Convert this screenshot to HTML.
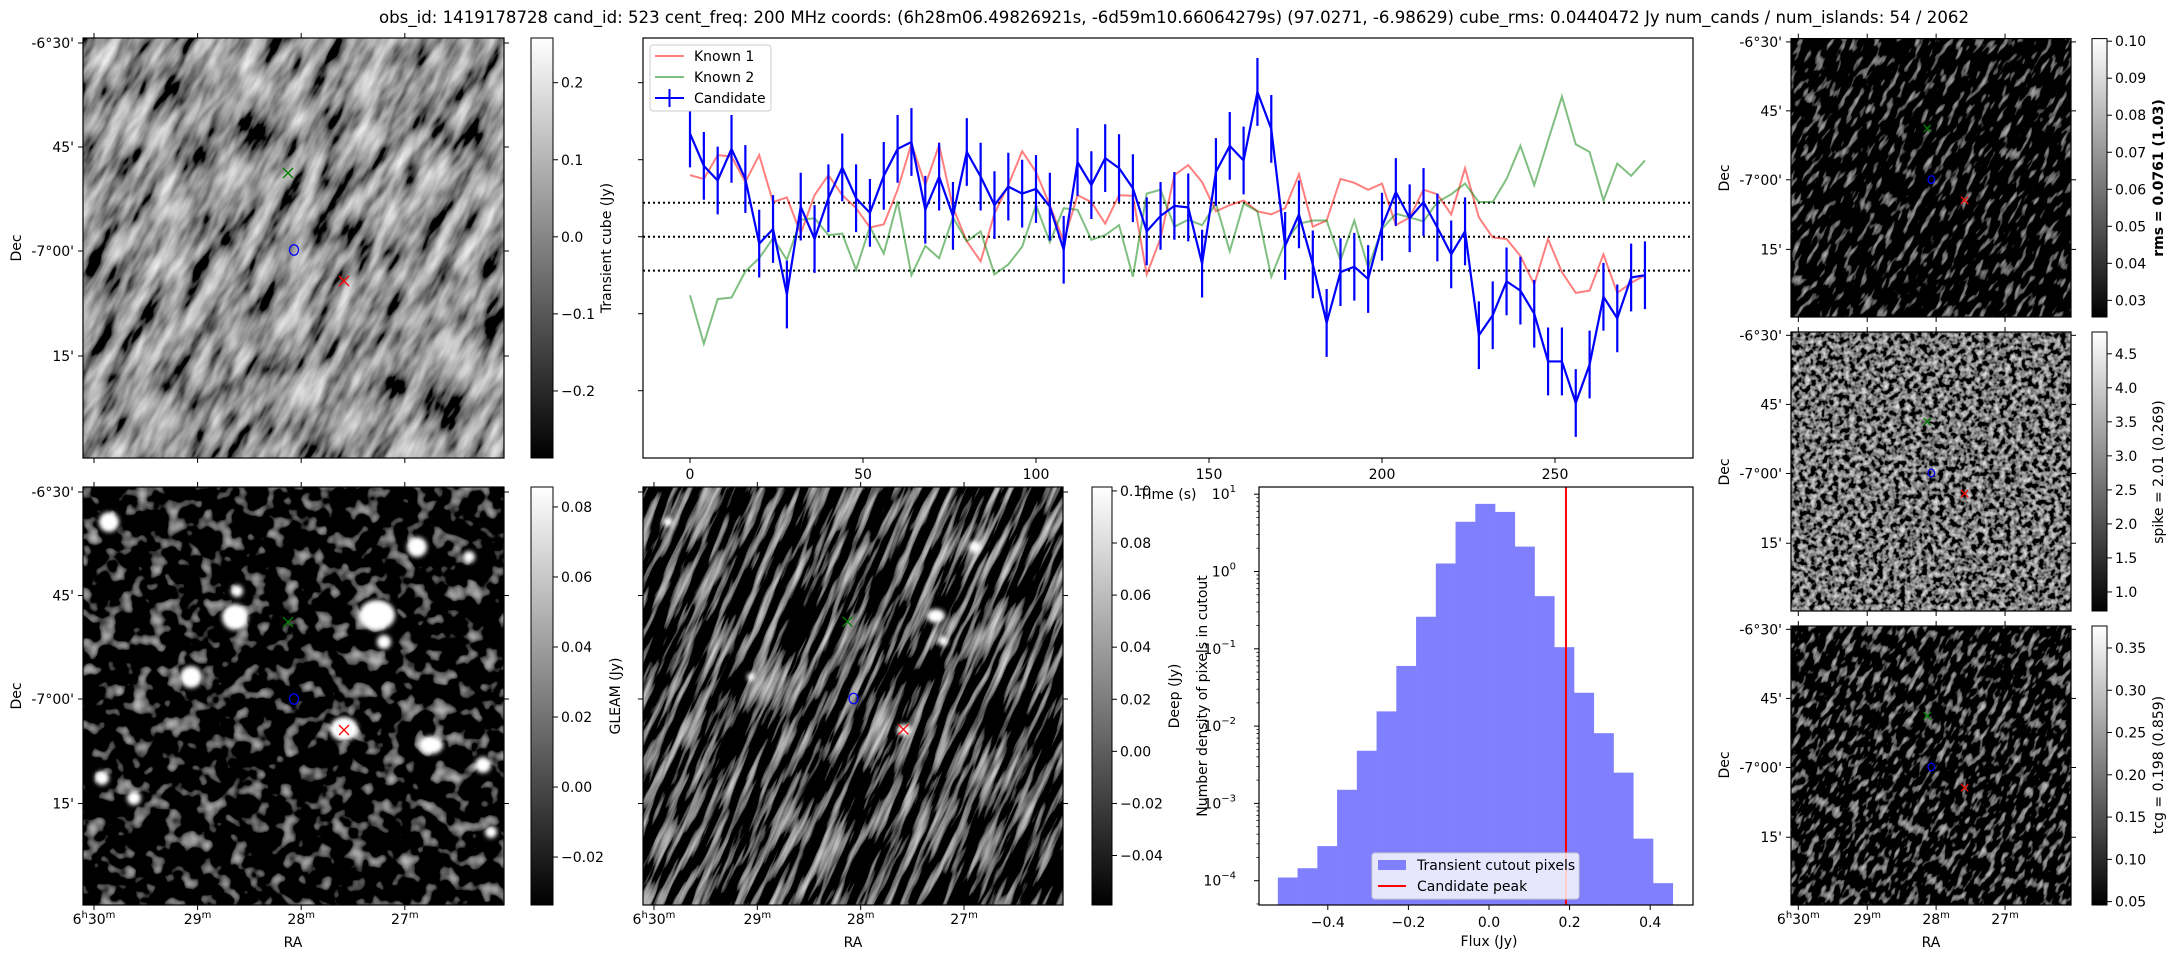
<!DOCTYPE html>
<html><head><meta charset="utf-8">
<style>
html,body{margin:0;padding:0;background:#fff;overflow:hidden;width:2175px;height:960px;}
svg{display:block;font-family:"DejaVu Sans","Liberation Sans",sans-serif;}
.t{font-size:14px;fill:#000;}
</style></head>
<body>
<svg id="fig" width="2175" height="960" viewBox="0 0 2175 960" xmlns="http://www.w3.org/2000/svg">
<defs>
<linearGradient id="cbg" x1="0" y1="1" x2="0" y2="0"><stop offset="0" stop-color="#000"/><stop offset="1" stop-color="#fff"/></linearGradient>
<filter id="fTL" x="0" y="0" width="100%" height="100%"><feTurbulence type="fractalNoise" baseFrequency="0.02 0.07" numOctaves="3" seed="3"/><feColorMatrix type="matrix" values="1.4 0 0 0 -0.4 1.4 0 0 0 -0.4 1.4 0 0 0 -0.4 0 0 0 0 1"/></filter>
<filter id="fBL" x="0" y="0" width="100%" height="100%"><feTurbulence type="fractalNoise" baseFrequency="0.06" numOctaves="2" seed="7"/><feColorMatrix type="matrix" values="1.4 0 0 0 -0.76 1.4 0 0 0 -0.76 1.4 0 0 0 -0.76 0 0 0 0 1"/></filter>
<filter id="fBM" x="0" y="0" width="100%" height="100%"><feTurbulence type="fractalNoise" baseFrequency="0.015 0.12" numOctaves="3" seed="11"/><feColorMatrix type="matrix" values="1.6 0 0 0 -0.76 1.6 0 0 0 -0.76 1.6 0 0 0 -0.76 0 0 0 0 1"/></filter>
<filter id="fR1" x="0" y="0" width="100%" height="100%"><feTurbulence type="fractalNoise" baseFrequency="0.06 0.18" numOctaves="2" seed="5"/><feColorMatrix type="matrix" values="1.3 0 0 0 -0.74 1.3 0 0 0 -0.74 1.3 0 0 0 -0.74 0 0 0 0 1"/></filter>
<filter id="fR2" x="0" y="0" width="100%" height="100%"><feTurbulence type="fractalNoise" baseFrequency="0.18" numOctaves="2" seed="9"/><feColorMatrix type="matrix" values="1.6 0 0 0 -0.62 1.6 0 0 0 -0.62 1.6 0 0 0 -0.62 0 0 0 0 1"/></filter>
<filter id="fR3" x="0" y="0" width="100%" height="100%"><feTurbulence type="fractalNoise" baseFrequency="0.08 0.18" numOctaves="2" seed="13"/><feColorMatrix type="matrix" values="1.4 0 0 0 -0.74 1.4 0 0 0 -0.74 1.4 0 0 0 -0.74 0 0 0 0 1"/></filter>
<filter id="blur2"><feGaussianBlur stdDeviation="2"/></filter>
<clipPath id="cTL"><rect x="83" y="38" width="421" height="420"/></clipPath>
<clipPath id="cBL"><rect x="83" y="487" width="421" height="418"/></clipPath>
<clipPath id="cBM"><rect x="643" y="487" width="420" height="418"/></clipPath>
<clipPath id="cR1"><rect x="1791" y="38.6" width="280" height="278.4"/></clipPath>
<clipPath id="cR2"><rect x="1791" y="332" width="280" height="279"/></clipPath>
<clipPath id="cR3"><rect x="1791" y="626" width="280" height="279"/></clipPath>
</defs>

<text x="379" y="23" font-size="17" textLength="1590" lengthAdjust="spacingAndGlyphs">obs_id: 1419178728 cand_id: 523 cent_freq: 200 MHz coords: (6h28m06.49826921s, -6d59m10.66064279s) (97.0271, -6.98629) cube_rms: 0.0440472 Jy num_cands / num_islands: 54 / 2062</text>

<!-- IMAGES -->
<g clip-path="url(#cTL)">
 <rect x="-200" y="-250" width="1000" height="1000" filter="url(#fTL)" transform="rotate(-62 293 248)"/>
</g>
<g clip-path="url(#cBL)">
 <rect x="83" y="487" width="421" height="418" filter="url(#fBL)"/>
 <g fill="#fff" filter="url(#blur2)">
  <circle cx="109" cy="522" r="10"/><circle cx="235" cy="617" r="13"/><ellipse cx="377" cy="615" rx="18" ry="15"/>
  <circle cx="417" cy="547" r="10"/><circle cx="191" cy="677" r="11"/><ellipse cx="344" cy="729" rx="14" ry="12"/>
  <ellipse cx="431" cy="745" rx="12" ry="9"/><circle cx="483" cy="765" r="8"/><circle cx="384" cy="642" r="7"/>
  <circle cx="102" cy="778" r="7"/><circle cx="134" cy="798" r="7"/><circle cx="491" cy="832" r="6"/>
  <circle cx="469" cy="557" r="6"/><circle cx="237" cy="591" r="6"/>
 </g>
</g>
<g clip-path="url(#cBM)">
 <rect x="350" y="200" width="1000" height="1000" filter="url(#fBM)" transform="rotate(-66 853 696)"/>
 <g fill="#fff" filter="url(#blur2)">
  <circle cx="668" cy="522" r="5"/><ellipse cx="936" cy="616" rx="9" ry="7"/><circle cx="975" cy="547" r="6"/>
  <circle cx="943" cy="641" r="5"/><circle cx="751" cy="677" r="4"/><ellipse cx="904" cy="730" rx="7" ry="6"/>
 </g>
</g>
<g clip-path="url(#cR1)">
 <rect x="1600" y="-150" width="660" height="660" filter="url(#fR1)" transform="rotate(-60 1931 178)"/>
</g>
<g clip-path="url(#cR2)">
 <rect x="1791" y="332" width="280" height="279" filter="url(#fR2)"/>
</g>
<g clip-path="url(#cR3)">
 <rect x="1600" y="440" width="660" height="660" filter="url(#fR3)" transform="rotate(-60 1931 765)"/>
</g>
<g fill="none" stroke="#000" stroke-width="1.2">
 <rect x="83" y="38" width="421" height="420"/>
 <rect x="83" y="487" width="421" height="418"/>
 <rect x="643" y="487" width="420" height="418"/>
 <rect x="1791" y="38.6" width="280" height="278.4"/>
 <rect x="1791" y="332" width="280" height="279"/>
 <rect x="1791" y="626" width="280" height="279"/>
</g>

<!-- colorbars -->
<g stroke="#000" stroke-width="1">
 <rect x="531" y="38" width="22" height="420" fill="url(#cbg)"/>
 <rect x="531" y="487" width="22" height="418" fill="url(#cbg)"/>
 <rect x="1092" y="487" width="20" height="418" fill="url(#cbg)"/>
 <rect x="2092" y="38.6" width="15" height="278.4" fill="url(#cbg)"/>
 <rect x="2092" y="332" width="15" height="279" fill="url(#cbg)"/>
 <rect x="2092" y="626" width="15" height="279" fill="url(#cbg)"/>
</g>
<g id="static" class="t"></g>

<!-- colorbar titles -->
<text class="t" transform="translate(611 248) rotate(-90)" text-anchor="middle">Transient cube (Jy)</text>
<text class="t" transform="translate(620 696) rotate(-90)" text-anchor="middle">GLEAM (Jy)</text>
<text class="t" transform="translate(1179 696) rotate(-90)" text-anchor="middle">Deep (Jy)</text>
<text class="t" transform="translate(2163 178) rotate(-90)" text-anchor="middle" font-weight="bold">rms = 0.0761 (1.03)</text>
<text class="t" transform="translate(2163 472) rotate(-90)" text-anchor="middle">spike = 2.01 (0.269)</text>
<text class="t" transform="translate(2163 765) rotate(-90)" text-anchor="middle">tcg = 0.198 (0.859)</text>

<!-- light curve -->
<g id="lc">
 <rect x="643" y="38" width="1050" height="420" fill="#fff" stroke="#000" stroke-width="1.2"/>
</g>
<text class="t" x="1168" y="499" text-anchor="middle">Time (s)</text>

<!-- histogram -->
<g id="hist"></g>
<text class="t" x="1489" y="946" text-anchor="middle">Flux (Jy)</text>
<text class="t" transform="translate(1207 696) rotate(-90)" text-anchor="middle">Number density of pixels in cutout</text>

<!-- image axis labels -->
<text class="t" transform="translate(21 248) rotate(-90)" text-anchor="middle">Dec</text>
<text class="t" transform="translate(21 696) rotate(-90)" text-anchor="middle">Dec</text>
<text class="t" transform="translate(1729 178) rotate(-90)" text-anchor="middle">Dec</text>
<text class="t" transform="translate(1729 472) rotate(-90)" text-anchor="middle">Dec</text>
<text class="t" transform="translate(1729 765) rotate(-90)" text-anchor="middle">Dec</text>
<text class="t" x="293" y="947" text-anchor="middle">RA</text>
<text class="t" x="853" y="947" text-anchor="middle">RA</text>
<text class="t" x="1931" y="947" text-anchor="middle">RA</text>

<script>
// ---- light curve data ----
const times = [0,4,8,12,16,20,24,28,32,36, 40,44,48,52,56,60,64,68,72,76, 80,84,88,92,96,100,104,108,112,116, 120,124,128,132,136,140,144,148,152,156, 160,164,168,172,176,180,184,188,192,196, 200,204,208,212,216,220,224,228,232,236, 240,244,248,252,256,260,264,268,272,276];
const candidate = [0.134,0.092,0.073,0.114,0.075,-0.009,0.010,-0.075,0.039,-0.003,
 0.050,0.090,0.050,0.031,0.079,0.114,0.123,0.035,0.078,0.027,
 0.110,0.078,0.041,0.065,0.056,0.062,0.039,-0.017,0.097,0.067,
 0.102,0.089,0.063,0.007,0.027,0.040,0.038,-0.035,0.084,0.118,
 0.099,0.188,0.140,-0.012,0.029,-0.036,-0.112,-0.046,-0.039,-0.055,
 0.013,0.058,0.024,0.045,0.012,-0.023,0.007,-0.128,-0.102,-0.058,
 -0.070,-0.100,-0.162,-0.162,-0.216,-0.166,-0.078,-0.106,-0.053,-0.050];
const candidateErr = [0.044,0.044,0.044,0.044,0.044,0.044,0.044,0.044,0.044,0.044,
 0.044,0.044,0.044,0.044,0.044,0.044,0.044,0.044,0.044,0.044,
 0.044,0.044,0.044,0.044,0.044,0.044,0.044,0.044,0.044,0.044,
 0.044,0.044,0.044,0.044,0.044,0.044,0.044,0.044,0.044,0.044,
 0.044,0.044,0.044,0.044,0.044,0.044,0.044,0.044,0.044,0.044,
 0.044,0.044,0.044,0.044,0.044,0.044,0.044,0.044,0.044,0.044,
 0.044,0.044,0.044,0.044,0.044,0.044,0.044,0.044,0.044,0.044];
const known1 = [0.080,0.075,0.106,0.104,0.071,0.106,0.045,0.051,0.004,0.054,
 0.080,0.054,0.037,0.012,0.016,0.061,0.121,0.067,0.119,0.038,
 -0.006,-0.032,0.030,0.067,0.111,0.084,0.041,-0.006,0.054,0.045,
 0.017,0.054,0.053,-0.049,-0.002,0.080,0.093,0.071,0.033,0.041,
 0.047,0.033,0.029,0.037,0.081,0.013,0.021,0.075,0.070,0.061,
 0.069,0.015,0.025,0.061,0.055,0.029,0.089,0.025,-0.001,-0.003,
 -0.025,-0.062,-0.003,-0.046,-0.073,-0.070,-0.023,-0.073,-0.060,-0.050];
const known2 = [-0.076,-0.139,-0.081,-0.079,-0.045,-0.028,-0.002,-0.030,0.022,0.024,
 0.002,0.004,-0.043,0.013,-0.022,0.046,-0.050,-0.012,-0.028,0.025,
 -0.006,0.007,-0.049,-0.036,-0.013,0.041,-0.007,0.037,0.035,-0.004,
 0.002,0.015,-0.052,0.056,0.061,0.013,0.022,0.015,0.043,-0.019,
 0.043,0.033,-0.052,-0.007,0.017,0.021,0.021,-0.031,0.021,-0.040,
 0.010,0.030,0.025,0.020,0.045,0.055,0.069,0.045,0.045,0.075,
 0.118,0.067,0.125,0.182,0.120,0.110,0.047,0.095,0.079,0.099];
const rmsLevels = [0.0440472, 0, -0.0440472];
const timeTicks = [0,50,100,150,200,250];
const lcYTicks = [0.2,0.1,0.0,-0.1,-0.2];
// ---- histogram data ----
const binLeft = [-0.524,-0.475,-0.426,-0.377,-0.328,-0.279,-0.230,-0.181,-0.132,-0.083,-0.034,0.015,0.064,0.113,0.162,0.211,0.260,0.309,0.358,0.407];
const binWidth = 0.049;
const binDensity = [1.1e-4,1.45e-4,2.8e-4,1.5e-3,4.8e-3,0.0155,0.06,0.26,1.27,4.4,7.5,5.9,2.1,0.48,0.105,0.027,0.0081,0.0025,3.5e-4,9.3e-5];
const candidatePeak = [0.191];
const fluxTicks = [-0.4,-0.2,0.0,0.2,0.4];
const densityDecades = [1,0,-1,-2,-3,-4];
// ---- colorbar ticks ----
const cbTransientTicks = [0.2,0.1,0.0,-0.1,-0.2];
const cbGleamTicks = [0.08,0.06,0.04,0.02,0.00,-0.02];
const cbDeepTicks = [0.10,0.08,0.06,0.04,0.02,0.00,-0.02,-0.04];
const cbRmsTicks = [0.10,0.09,0.08,0.07,0.06,0.05,0.04,0.03];
const cbSpikeTicks = [4.5,4.0,3.5,3.0,2.5,2.0,1.5,1.0];
const cbTcgTicks = [0.35,0.30,0.25,0.20,0.15,0.10,0.05];

const NS='http://www.w3.org/2000/svg';
function mk(tag, attrs, parent){const e=document.createElementNS(NS,tag);for(const k in attrs)e.setAttribute(k,attrs[k]);parent.appendChild(e);return e;}
const stat=document.getElementById('static');
const fmt=(v,d)=>{const s=Math.abs(v).toFixed(d);return (v<0?'\u2212':'')+s;};

// light curve scales
const lcX=t=>690+t*3.46;
const lcY=v=>236.7-v*770;
const lc=document.getElementById('lc');
rmsLevels.forEach((r,i)=>{
 const l=mk('line',{x1:643,x2:1693,y1:lcY(r),y2:lcY(r),stroke:'#000','stroke-width':2,'stroke-dasharray':'2 3'},lc);
 
 
});
function poly(arr,color,name,w){
 const p=mk('polyline',{points:arr.map((v,i)=>lcX(times[i])+','+lcY(v)).join(' '),fill:'none',stroke:color,'stroke-width':w},lc);
 
 
}
poly(known1,'rgba(255,0,0,0.5)','known-1-line',2);
poly(known2,'rgba(0,128,0,0.5)','known-2-line',2);
candidate.forEach((v,i)=>{
 const e=mk('line',{x1:lcX(times[i]),x2:lcX(times[i]),y1:lcY(v+candidateErr[i]),y2:lcY(v-candidateErr[i]),stroke:'#0000ff','stroke-width':2.2},lc);
 
 
});
poly(candidate,'#0000ff','candidate-line',2.2);
timeTicks.forEach(t=>{
 const tk=mk('line',{x1:lcX(t),x2:lcX(t),y1:458,y2:463,stroke:'#000'},lc);
 
 
 const tl=mk('text',{x:lcX(t),y:479,'text-anchor':'middle',class:'t'},lc);
 tl.textContent=t;
 
 
});
lcYTicks.forEach(v=>{
 const tk=mk('line',{x1:638,x2:643,y1:lcY(v),y2:lcY(v),stroke:'#000'},lc);
 
 
});
// legend
const lg=mk('g',{},lc);


mk('rect',{x:650,y:45,width:121,height:66,rx:3,fill:'#fff',stroke:'#ccc'},lg);
[['Known 1','rgba(255,0,0,0.5)',56],['Known 2','rgba(0,128,0,0.5)',77],['Candidate','#0000ff',98]].forEach(([n,c,y],i)=>{
 mk('line',{x1:655,x2:684,y1:y,y2:y,stroke:c,'stroke-width':2},lg);
 if(i==2) mk('line',{x1:669.5,x2:669.5,y1:y-9,y2:y+9,stroke:c,'stroke-width':2},lg);
 const t=mk('text',{x:694,y:y+5,class:'t'},lg);
 t.textContent=n;
 
 
});

// histogram
const hX=f=>1489+f*403;
const hY=v=>571.5-Math.log10(v)*77.3;
const hg=document.getElementById('hist');
mk('rect',{x:1259,y:487,width:434,height:418,fill:'#fff'},hg);
binLeft.forEach((b,i)=>{
 const r=mk('rect',{x:hX(b),y:hY(binDensity[i]),width:hX(b+binWidth)-hX(b)+0.3,height:905-hY(binDensity[i]),fill:'#8080ff'},hg);
 
 
});
candidatePeak.forEach(p=>{
 const l=mk('line',{x1:hX(p),x2:hX(p),y1:487,y2:905,stroke:'#ff0000','stroke-width':2},hg);
 
 
});
const hf=mk('rect',{x:1259,y:487,width:434,height:418,fill:'none',stroke:'#000','stroke-width':1.2},hg);


fluxTicks.forEach(f=>{
 mk('line',{x1:hX(f),x2:hX(f),y1:905,y2:910,stroke:'#000'},hg);
 const t=mk('text',{x:hX(f),y:927,'text-anchor':'middle',class:'t'},hg);
 t.textContent=fmt(f,1);
 
 
});
densityDecades.forEach(d=>{
 const y=hY(Math.pow(10,d));
 mk('line',{x1:1254,x2:1259,y1:y,y2:y,stroke:'#000'},hg);
 for(let m=2;m<10;m++){const ym=hY(m*Math.pow(10,d)); if(ym>=487&&ym<=905) mk('line',{x1:1256.5,x2:1259,y1:ym,y2:ym,stroke:'#000','stroke-width':0.8},hg);}
 if(d===-4){const m5=hY(5e-5); if(m5<=905) mk('line',{x1:1256.5,x2:1259,y1:m5,y2:m5,stroke:'#000','stroke-width':0.8},hg);}
 const t=mk('text',{x:1236,y:y+5,'text-anchor':'end',class:'t'},hg);
 t.textContent='10';
 const s=mk('tspan',{dy:-7,'font-size':10},t);
 s.textContent=d<0?'\u2212'+(-d):String(d);
 
 
});
const hl=mk('g',{},hg);


mk('rect',{x:1372,y:853,width:207,height:46,rx:3,fill:'rgba(255,255,255,0.8)',stroke:'#ccc'},hl);
mk('rect',{x:1378,y:860,width:28,height:10,fill:'#8080ff'},hl);
mk('line',{x1:1378,x2:1406,y1:886,y2:886,stroke:'#ff0000','stroke-width':2},hl);
const ht1=mk('text',{x:1417,y:870,class:'t'},hl); ht1.textContent='Transient cutout pixels';


const ht2=mk('text',{x:1417,y:891,class:'t'},hl); ht2.textContent='Candidate peak';



// colorbar ticks
function cbar(ticks,x,top,bot,vmax,vmin,dec,name){
 ticks.forEach(v=>{
  const y=top+(vmax-v)/(vmax-vmin)*(bot-top);
  mk('line',{x1:x,x2:x+5,y1:y,y2:y,stroke:'#000'},stat);
  const t=mk('text',{x:x+8,y:y+5,class:'t'},stat);
  t.textContent=fmt(v,dec);
  
  
 });
}
cbar(cbTransientTicks,553,38,458,0.258,-0.287,1,'transient-colorbar-tick');
cbar(cbGleamTicks,553,487,905,0.0857,-0.0337,2,'gleam-colorbar-tick');
cbar(cbDeepTicks,1112,487,905,0.1015,-0.059,2,'deep-colorbar-tick');
cbar(cbRmsTicks,2107,38.6,317,0.1007,0.0255,2,'rms-colorbar-tick');
cbar(cbSpikeTicks,2107,332,611,4.82,0.72,1,'spike-colorbar-tick');
cbar(cbTcgTicks,2107,626,905,0.376,0.046,2,'tcg-colorbar-tick');

// image axes: ticks, labels, markers
const decLabels=["-6\u00b030'","45'","-7\u00b000'","15'"];
const raLabels=[['6','h','30','m'],['','','29','m'],['','','28','m'],['','','27','m']];
function imgAxes(x0,y0,w,h,opts){
 const s=w/421;
 const decY=[5,109,213,318].map(v=>y0+v*h/420);
 const raX=[11,114.6,218.2,321.8].map(v=>x0+v*s);
 decY.forEach((y,i)=>{
  mk('line',{x1:x0-5,x2:x0,y1:y,y2:y,stroke:'#000'},stat);
  mk('line',{x1:x0+w,x2:x0+w+5,y1:y,y2:y,stroke:'#000'},stat);
  if(opts.dec){
   const t=mk('text',{x:x0-9,y:y+5,'text-anchor':'end',class:'t'},stat);
   t.textContent=decLabels[i];
   
   
  }
 });
 raX.forEach((x,i)=>{
  mk('line',{x1:x,x2:x,y1:y0+h,y2:y0+h+5,stroke:'#000'},stat);
  mk('line',{x1:x,x2:x,y1:y0-5,y2:y0,stroke:'#000'},stat);
  if(opts.ra){
   const t=mk('text',{x:x,y:y0+h+19,'text-anchor':'middle',class:'t'},stat);
   const r=raLabels[i];
   if(r[0]){const a=mk('tspan',{},t);a.textContent=r[0];const b=mk('tspan',{dy:-6,'font-size':10},t);b.textContent=r[1];const c=mk('tspan',{dy:6},t);c.textContent=r[2];}
   else{const c=mk('tspan',{},t);c.textContent=r[2];}
   const m=mk('tspan',{dy:-6,'font-size':10},t);m.textContent=r[3];
   
   
  }
 });
 const g=mk('g',{'stroke-width':1.3,fill:'none'},stat);
 
 
 const ms=Math.max(3,4*s+1);
 const gx=x0+205*s, gy=y0+135*s, bx=x0+211*s, by=y0+212*s, rx=x0+261*s, ry=y0+243*s;
 mk('path',{d:`M${gx-ms},${gy-ms}L${gx+ms},${gy+ms}M${gx-ms},${gy+ms}L${gx+ms},${gy-ms}`,stroke:'#008000'},g);
 mk('path',{d:`M${rx-ms},${ry-ms}L${rx+ms},${ry+ms}M${rx-ms},${ry+ms}L${rx+ms},${ry-ms}`,stroke:'#ff0000'},g);
 mk('ellipse',{cx:bx,cy:by,rx:ms*0.9,ry:ms*1.05,stroke:'#0000ff'},g);
}
imgAxes(83,38,421,420,{dec:true,ra:false});
imgAxes(83,487,421,418,{dec:true,ra:true});
imgAxes(643,487,420,418,{dec:false,ra:true});
imgAxes(1791,38.6,280,278.4,{dec:true,ra:false});
imgAxes(1791,332,280,279,{dec:true,ra:false});
imgAxes(1791,626,280,279,{dec:true,ra:true});
</script>
</svg>
</body></html>
